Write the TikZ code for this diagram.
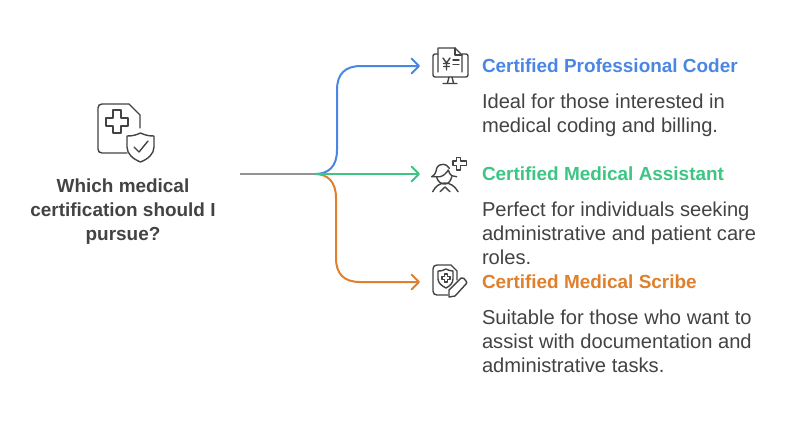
\documentclass[tikz,border=0pt]{standalone}
\usepackage{fontspec}
\setmainfont{Liberation Sans}
\usetikzlibrary{arrows.meta}
\definecolor{cblue}{HTML}{4A86E4}
\definecolor{cgreen}{HTML}{3CC583}
\definecolor{corange}{HTML}{E0802C}
\definecolor{cgray}{HTML}{939393}
\definecolor{ctext}{HTML}{434343}
\definecolor{cicon}{HTML}{434343}
\newcommand{\fl}{\rule{0pt}{12pt}}
\tikzset{
  x=0.75pt,y=-0.75pt,
  every node/.style={inner sep=0pt,outer sep=0pt,text=ctext},
  conn/.style={line width=1.5pt},
  tip/.style={-{Straight Barb[length=5.5pt,width=11pt,line width=1.5pt,round]}},
  ttl/.style={anchor=north west,font=\fontsize{14.2pt}{18pt}\selectfont\bfseries,align=left},
  body/.style={anchor=north west,font=\fontsize{15.1pt}{18pt}\selectfont,align=left},
  src/.style={font=\fontsize{14.2pt}{18pt}\selectfont\bfseries,align=center,anchor=north},
  iconbox/.style={minimum width=45pt,minimum height=30pt,draw=none},
  ic/.style={draw=cicon,line width=1.05pt,line join=round,line cap=round},
}
\begin{document}
\begin{tikzpicture}
\useasboundingbox[fill=white] (0,0) rectangle (792,426);
% nodes
\coordinate (start) at (240,174);
\coordinate (hub) at (315,174);
\node[src] (source) at (123,176) {\fl Which medical\\certification should I\\pursue?};
\node[iconbox] (icA) at (450,66) {};
\node[iconbox] (icB) at (450,174) {};
\node[iconbox] (icC) at (450,282) {};
\node[ttl,text=cblue] (tA) at (482,56) {\fl Certified Professional Coder};
\node[body] (bA) at (482,92) {\fl Ideal for those interested in\\medical coding and billing.};
\node[ttl,text=cgreen] (tB) at (482,164) {\fl Certified Medical Assistant};
\node[body] (bB) at (482,200) {\fl Perfect for individuals seeking\\administrative and patient care\\roles.};
\node[ttl,text=corange] (tC) at (482,272) {\fl Certified Medical Scribe};
\node[body] (bC) at (482,308) {\fl Suitable for those who want to\\assist with documentation and\\administrative tasks.};
% connectors
\draw[conn,cblue,tip] (hub) .. controls (329,174) and (337,166) .. (337,150) -- (337,90) .. controls (337,74) and (345,66) .. (361,66) -- (icA.west);
\draw[conn,corange,tip] (hub) .. controls (328,174) and (336,182) .. (336,198) -- (336,258) .. controls (336,274) and (344,282) .. (360,282) -- (icC.west);
\draw[conn,cgreen,tip] (hub) -- (icB.west);
\draw[conn,cgray] (start) -- (hub);
% source icon
\draw[ic] (127,153) -- (102,153) .. controls (99.5,153) and (98,151.5) .. (98,149) -- (98,108) .. controls (98,105.5) and (99.5,104) .. (102,104) -- (129,104) -- (140,115) -- (140,128);
\draw[ic] (113,110) -- (121,110) -- (121,118) -- (128,118) -- (128,126) -- (121,126) -- (121,133) -- (113,133) -- (113,126) -- (106,126) -- (106,118) -- (113,118) -- cycle;
\draw[ic] (127,136) .. controls (133,136) and (136,135) .. (140.5,133) .. controls (145,135) and (148,136) .. (154,136) -- (154,147) .. controls (154,154) and (148,159) .. (140.5,162) .. controls (133,159) and (127,154) .. (127,147) -- cycle;
\draw[ic] (134,147) -- (139,152) -- (148,141);
% coder icon
\draw[ic] (438,54) -- (435,54) .. controls (434,54) and (433,55) .. (433,56) -- (433,75) .. controls (433,76) and (434,77) .. (435,77) -- (466,77) .. controls (467,77) and (468,76) .. (468,75) -- (468,56) .. controls (468,55) and (467,54) .. (466,54) -- (462,54);
\draw[ic] (438,72) -- (438,48) -- (455,48) -- (462,55) -- (462,72);
\draw[ic] (455,48) -- (455,55) -- (462,55);
\draw[ic] (449,77) -- (447.5,83) (443,83.5) -- (457,83.5) (452,77) -- (453.5,83);
\draw[ic] (443,58) -- (446.5,63) -- (450,58) (446.5,63) -- (446.5,70) (443.5,63.5) -- (449.5,63.5) (443.5,66.5) -- (449.5,66.5);
\draw[ic] (453,60) -- (459,60) (453,64.5) -- (459,64.5);
% assistant icon
\draw[ic] (456.5,157.5) -- (460.5,157.5) -- (460.5,161) -- (466.5,161) -- (466.5,165.5) -- (460.5,165.5) -- (460.5,170) -- (456.5,170) -- (456.5,165.5) -- (453,165.5) -- (453,161) -- (456.5,161) -- cycle;
\draw[ic] (431.7,176.7) .. controls (435,175) and (436,172) .. (436.7,168.3) .. controls (438,165) and (441,164.3) .. (443.3,164.3) .. controls (445.5,164.3) and (447.5,165.5) .. (449.3,168.3);
\draw[ic] (431.7,176.7) -- (440,176.7) .. controls (443.5,176) and (446.5,173) .. (448.3,170) .. controls (449,172.5) and (450,174.5) .. (451.7,175.7) -- (456.7,176.7);
\draw[ic] (436.7,177.3) .. controls (438,182) and (441,184) .. (445,184) .. controls (449,184) and (451,180) .. (451.7,176.7);
\draw[ic] (432.7,191.7) .. controls (435.5,186) and (440,183) .. (445,183) .. controls (450,183) and (455,186) .. (458,191.7);
\draw[ic] (440,191.7) -- (445,187) -- (450,191.7);
% scribe icon
\draw[ic] (448,295) -- (437,295) .. controls (434.5,295) and (433,293.5) .. (433,291) -- (433,269) .. controls (433,266.5) and (434.5,265) .. (437,265) -- (451,265) -- (457,271) -- (457,280);
\draw[ic] (438,271) .. controls (442,271) and (444,270) .. (446,269) .. controls (448,270) and (450,271) .. (453,271) -- (453,279) .. controls (453,283) and (450,286) .. (446,288) .. controls (442,286) and (438,283) .. (438,279) -- cycle;
\draw[ic] (444.5,274) -- (447.5,274) -- (447.5,276.5) -- (450,276.5) -- (450,279.5) -- (447.5,279.5) -- (447.5,282) -- (444.5,282) -- (444.5,279.5) -- (442,279.5) -- (442,276.5) -- (444.5,276.5) -- cycle;
\draw[ic] (449,297) -- (449,290) -- (461,278) .. controls (463,277) and (465,279) .. (466,281) .. controls (467,282) and (467,283) .. (466,284) -- (455,296) -- cycle;
\end{tikzpicture}
\end{document}
